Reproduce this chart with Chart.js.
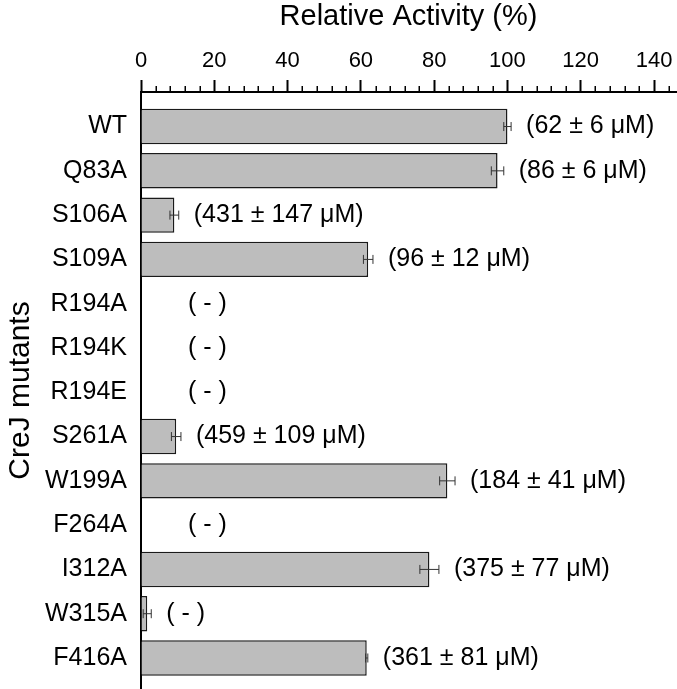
<!DOCTYPE html>
<html>
<head>
<meta charset="utf-8">
<script src="https://cdn.jsdelivr.net/npm/chart.js@4.4.1/dist/chart.umd.min.js"></script>
<style>
    html, body { margin: 0; padding: 0; background: #fff; }
</style>
</head>
<body>
<canvas id="activityChart" width="677" height="689"></canvas>
<script>
// Data
const mutants = ['WT', 'Q83A', 'S106A', 'S109A', 'R194A', 'R194K', 'R194E', 'S261A', 'W199A', 'F264A', 'I312A', 'W315A', 'F416A'];
const activity = [100, 97.3, 9.1, 62, 0, 0, 0, 9.6, 83.6, 0, 78.7, 1.7, 61.6];
const activityErr = [1, 1.7, 1.2, 1.3, 0, 0, 0, 1.3, 2.1, 0, 2.6, 1.1, 0.3];
const kmLabels = ['(62 ± 6 μM)', '(86 ± 6 μM)', '(431 ± 147 μM)', '(96 ± 12 μM)', '( - )', '( - )', '( - )',
    '(459 ± 109 μM)', '(184 ± 41 μM)', '( - )', '(375 ± 77 μM)', '( - )', '(361 ± 81 μM)'];
const xTicks = [0, 20, 40, 60, 80, 100, 120, 140];

const FONT = '"Liberation Sans", Arial, sans-serif';

// error bars with caps
const errorBarPlugin = {
    id: 'errorBars',
    afterDatasetsDraw(chart) {
        const { ctx, scales: { x, y } } = chart;
        ctx.save();
        ctx.strokeStyle = '#333';
        ctx.lineWidth = 1;
        activity.forEach((v, i) => {
            const e = activityErr[i];
            if (!e) return;
            const yc = y.getPixelForValue(i);
            const x1 = x.getPixelForValue(v - e);
            const x2 = x.getPixelForValue(v + e);
            ctx.beginPath();
            ctx.moveTo(x1, yc); ctx.lineTo(x2, yc);
            ctx.moveTo(x1, yc - 4.5); ctx.lineTo(x1, yc + 4.5);
            ctx.moveTo(x2, yc - 4.5); ctx.lineTo(x2, yc + 4.5);
            ctx.stroke();
        });
        ctx.restore();
    }
};

// Km text next to each bar
const kmLabelPlugin = {
    id: 'kmLabels',
    afterDatasetsDraw(chart) {
        const { ctx, scales: { x, y } } = chart;
        ctx.save();
        ctx.font = '25px ' + FONT;
        ctx.fillStyle = '#000';
        ctx.textBaseline = 'middle';
        ctx.textAlign = 'left';
        kmLabels.forEach((txt, i) => {
            let px;
            if (activity[i] > 0) {
                px = x.getPixelForValue(activity[i] + activityErr[i]) + 15;
            } else {
                px = x.getPixelForValue(0) + 47;
            }
            ctx.fillText(txt, px, y.getPixelForValue(i));
        });
        ctx.restore();
    }
};

// minor ticks every 4 units on the top axis
const minorTickPlugin = {
    id: 'minorTicks',
    afterDraw(chart) {
        const { ctx, scales: { x }, chartArea } = chart;
        ctx.save();
        ctx.strokeStyle = '#000';
        ctx.lineWidth = 1.5;
        ctx.beginPath();
        for (let v = 4; v <= x.max; v += 4) {
            if (v % 20 === 0) continue;
            const px = Math.round(x.getPixelForValue(v)) + 0.25;
            ctx.moveTo(px, chartArea.top);
            ctx.lineTo(px, chartArea.top - 6);
        }
        ctx.stroke();
        ctx.restore();
    }
};

const ctx = document.getElementById('activityChart').getContext('2d');
new Chart(ctx, {
    type: 'bar',
    data: {
        datasets: [{
            data: activity.map((v, i) => ({ x: v, y: i })),
            backgroundColor: '#bdbdbd',
            borderColor: '#1a1a1a',
            borderWidth: 1.5,
            barPercentage: 0.8,
            categoryPercentage: 1.0
        }]
    },
    options: {
        indexAxis: 'y',
        responsive: false,
        animation: false,
        devicePixelRatio: 1,
        layout: { padding: { left: 0, right: 1, top: 0, bottom: 0 } },
        plugins: {
            legend: { display: false },
            tooltip: { enabled: false }
        },
        scales: {
            x: {
                type: 'linear',
                position: 'top',
                min: 0,
                max: 146,
                afterBuildTicks: (scale) => { scale.ticks = xTicks.map(v => ({ value: v })); },
                afterFit: (scale) => {
                    scale.height = 92;
                    scale.paddingLeft = 0;
                    scale.paddingRight = 0;
                },
                ticks: {
                    color: '#000',
                    padding: 6,
                    maxRotation: 0,
                    font: { family: FONT, size: 22 }
                },
                grid: {
                    drawOnChartArea: false,
                    tickLength: 12,
                    tickWidth: 2,
                    tickColor: '#000'
                },
                border: { color: '#000', width: 2 },
                title: {
                    display: true,
                    text: 'Relative Activity (%)',
                    color: '#000',
                    padding: { top: 0, bottom: 0 },
                    font: { family: FONT, size: 29 }
                }
            },
            y: {
                type: 'linear',
                reverse: true,
                offset: false,
                min: -0.78,
                max: 12.7,
                afterBuildTicks: (scale) => { scale.ticks = mutants.map((m, i) => ({ value: i })); },
                afterFit: (scale) => {
                    scale.width = 141;
                    scale.paddingTop = 0;
                    scale.paddingBottom = 0;
                },
                ticks: {
                    color: '#000',
                    padding: 14,
                    callback: (value) => mutants[value],
                    font: { family: FONT, size: 25 }
                },
                grid: { display: false, drawTicks: false, offset: false },
                border: { color: '#000', width: 2 },
                title: {
                    display: true,
                    text: 'CreJ mutants',
                    color: '#000',
                    padding: { top: 3, bottom: 0 },
                    font: { family: FONT, size: 30 }
                }
            }
        }
    },
    plugins: [errorBarPlugin, kmLabelPlugin, minorTickPlugin]
});
</script>
</body>
</html>
